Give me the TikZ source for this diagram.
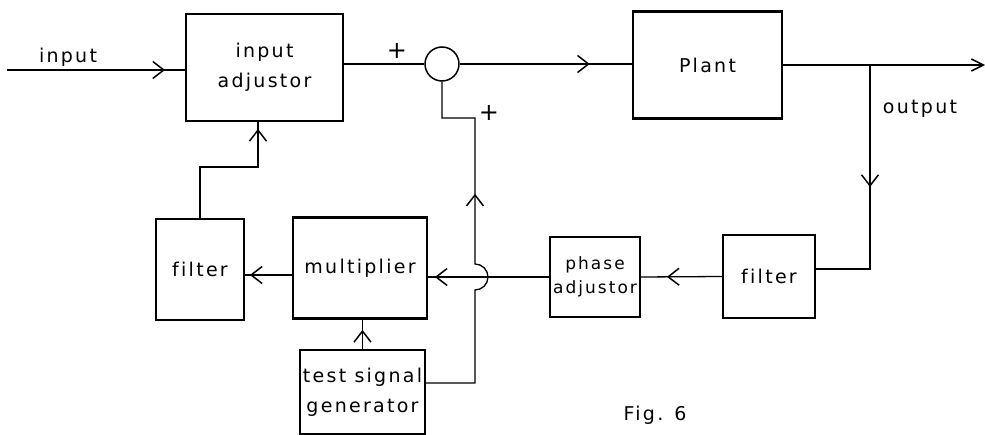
\documentclass[tikz,border=0pt]{standalone}
\usepackage{fontspec}
\setmainfont{DejaVu Sans}[LetterSpace=12,Ligatures=NoCommon]
\usetikzlibrary{arrows.meta,decorations.markings}
\begin{document}
\begin{tikzpicture}[x=1pt,y=-1pt,
  font=\fontsize{19}{30}\selectfont,
  blk/.style={draw,line width=2.2pt,inner sep=0pt,align=center},
  wire/.style={line width=1.3pt},
  marr/.style={postaction={decorate,decoration={markings,mark=at position #1 with {\arrow{Straight Barb[length=11pt,width=17pt,line width=1.5pt]}}}}},
  endarr/.style={-{Straight Barb[length=12pt,width=12pt,line width=1.5pt]}}
]
\useasboundingbox (0,0) rectangle (985,435);
% blocks
\node[blk,minimum width=157pt,minimum height=107pt] (inadj) at (264.5,67.5) {input\\adjustor};
\node[draw,circle,line width=1.5pt,minimum size=34pt,inner sep=0pt] (sum) at (442,64) {};
\node[blk,minimum width=149pt,minimum height=107pt] (plant) at (707.5,65) {Plant};
\node[blk,minimum width=88pt,minimum height=101pt] (filtA) at (200,269.5) {filter};
\node[blk,minimum width=134pt,minimum height=101pt] (mult) at (360,268) {multiplier};
\node[blk,minimum width=125pt,minimum height=84pt] (tsg) at (362.5,392) {test signal\\generator};
\node[blk,minimum width=90pt,minimum height=80pt,font=\fontsize{17}{24}\selectfont] (phase) at (595,277) {phase\\adjustor};
\node[blk,minimum width=92pt,minimum height=83pt] (filtB) at (769,276.5) {filter};
% coordinates
\coordinate (in) at (7,70);
\coordinate (out) at (985,65);
\coordinate (br) at (870,65);
% labels
\node (lin) at (68,57) {input};
\node[font=\fontsize{24}{24}\selectfont] (p1) at (397,51) {+};
\node[font=\fontsize{24}{24}\selectfont] (p2) at (489,113) {+};
\node (lout) at (920,109) {output};
\node (fig) at (655,415) {Fig. 6};
% connectors
\draw[wire,marr=158pt] (in) -- (in -| inadj.west);
\draw[wire] (sum.west -| inadj.east) -- (sum.west);
\draw[wire,marr=130pt] (sum.east) -- (sum.east -| plant.west);
\draw[wire,endarr] (plant.east) -- (out);
\draw[wire,marr=122pt] (br) -- (870,269) -- (filtB.east |- 0,269);
\draw[wire,marr=55pt] (filtB.west) -- (phase.east);
\draw[wire,marr=114pt] (phase.west) -- (phase.west -| mult.east);
\draw[wire,marr=42pt] (mult.west |- 0,275) -- (filtA.east |- 0,275);
\draw[wire,marr=147pt] (filtA.north) -- (200,167) -- (258,167) -- (inadj.south -| 258,0);
\draw[wire,marr=19pt] (tsg.north) -- (tsg.north |- mult.south);
\draw[wire,marr=253pt] (tsg.east |- 0,383) -- (475,383) -- (475,290)
  arc[start angle=90,end angle=-90,radius=13] -- (475,118) -- (442,118) -- (sum.south);
\end{tikzpicture}
\end{document}
